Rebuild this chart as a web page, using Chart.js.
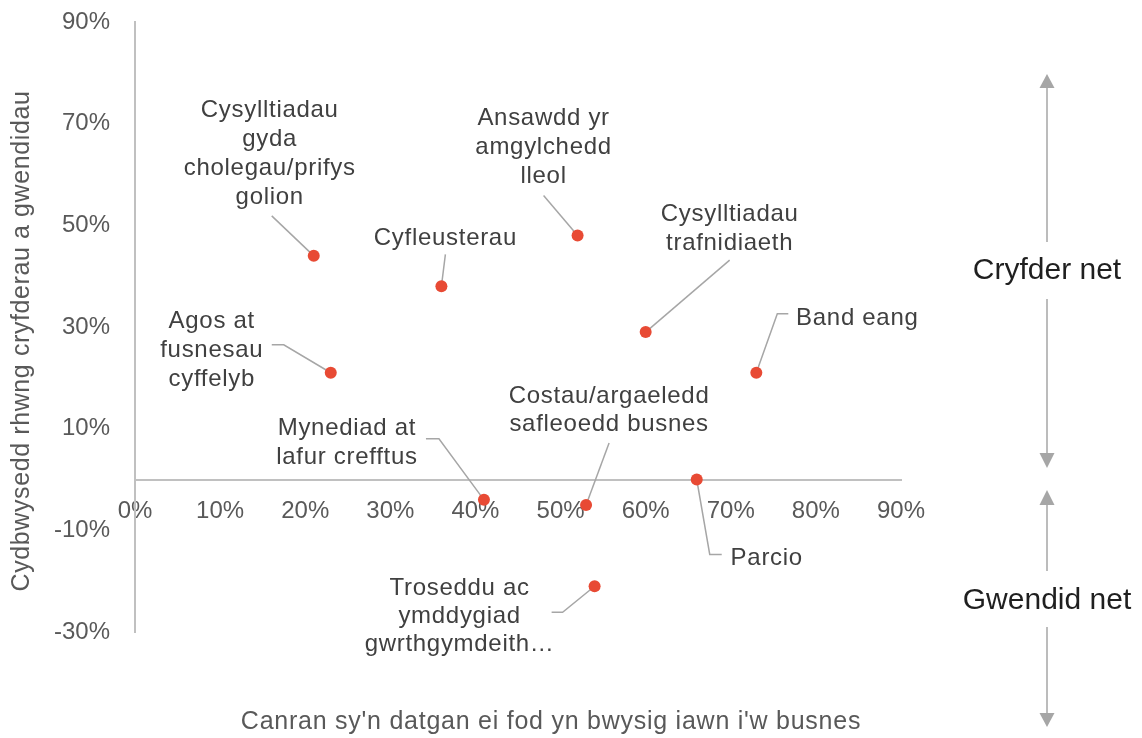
<!DOCTYPE html>
<html>
<head>
<meta charset="utf-8">
<script src="https://cdn.jsdelivr.net/npm/chart.js@4.4.1/dist/chart.umd.min.js"></script>
<style>html,body{margin:0;padding:0;background:#fff;}canvas{display:block;}</style>
</head>
<body>
<canvas id="c" width="1142" height="738"></canvas>
<script>
// ---- data ----
const categories = [
  "Cysylltiadau gyda cholegau/prifysgolion",
  "Agos at fusnesau cyffelyb",
  "Cyfleusterau",
  "Ansawdd yr amgylchedd lleol",
  "Cysylltiadau trafnidiaeth",
  "Band eang",
  "Mynediad at lafur crefftus",
  "Costau/argaeledd safleoedd busnes",
  "Parcio",
  "Troseddu ac ymddygiad gwrthgymdeithasol"
];
const labelLines = [
  ["Cysylltiadau", "gyda", "cholegau/prifys", "golion"],
  ["Agos at", "fusnesau", "cyffelyb"],
  ["Cyfleusterau"],
  ["Ansawdd yr", "amgylchedd", "lleol"],
  ["Cysylltiadau", "trafnidiaeth"],
  ["Band eang"],
  ["Mynediad at", "lafur crefftus"],
  ["Costau/argaeledd", "safleoedd busnes"],
  ["Parcio"],
  ["Troseddu ac", "ymddygiad", "gwrthgymdeith\u2026"]
];
const importance = [21, 23, 36, 52, 60, 73, 41, 53, 66, 54];   // x, %
const netBalance = [44, 21, 38, 48, 29, 21, -4, -5, 0, -21];   // y, %
const xTickValues = [0, 10, 20, 30, 40, 50, 60, 70, 80, 90];
const yTickValues = [-30, -10, 10, 30, 50, 70, 90];
const xAxisTitle = "Canran sy'n datgan ei fod yn bwysig iawn i'w busnes";
const yAxisTitle = "Cydbwysedd rhwng cryfderau a gwendidau";
const sideLabels = ["Cryfder net", "Gwendid net"];

// ---- label placement (pixel offsets from each point) ----
const placement = [
  {dx: -44, dy: -145, lh: 29, leader: [[-42, -40], [0, 0]]},
  {dx: -119, dy: -51, lh: 29, leader: [[-59, -28], [-47, -28], [0, 0]]},
  {dx: 4, dy: -48, lh: 29, leader: [[4, -32], [0, 0]]},
  {dx: -34, dy: -117, lh: 29, leader: [[-34, -40], [0, 0]]},
  {dx: 84, dy: -118, lh: 29, leader: [[84, -72], [0, 0]]},
  {dx: 101, dy: -54, lh: 29, leader: [[32, -59], [21, -59], [0, 0]]},
  {dx: -137, dy: -71, lh: 29, leader: [[-58, -61], [-45, -61], [0, 0]]},
  {dx: 23, dy: -109, lh: 28, leader: [[23, -62], [0, 0]]},
  {dx: 70, dy: 79, lh: 29, leader: [[0, 0], [13, 75], [25, 75]]},
  {dx: -135, dy: 2, lh: 28, leader: [[0, 0], [-32, 26], [-43, 26]]}
];

const FONT = "'Liberation Sans', Arial, sans-serif";
const GREY_TXT = '#595959';
const LABEL_TXT = '#404040';
const LINE_GREY = '#a6a6a6';
const AXIS_GREY = '#c0c0c0';

const annotate = {
  id: 'annotate',
  beforeDatasetsDraw(chart) {
    const ctx = chart.ctx;
    const meta = chart.getDatasetMeta(0);
    ctx.save();
    ctx.strokeStyle = LINE_GREY;
    ctx.lineWidth = 1.5;
    meta.data.forEach((pt, i) => {
      const L = placement[i];
      ctx.beginPath();
      L.leader.forEach(([dx, dy], j) => {
        if (j === 0) ctx.moveTo(pt.x + dx, pt.y + dy); else ctx.lineTo(pt.x + dx, pt.y + dy);
      });
      ctx.stroke();
    });
    ctx.restore();
  },
  afterDatasetsDraw(chart) {
    const ctx = chart.ctx;
    const meta = chart.getDatasetMeta(0);
    ctx.save();
    ctx.font = '24px ' + FONT;
    ctx.letterSpacing = '0.7px';
    ctx.fillStyle = LABEL_TXT;
    ctx.textAlign = 'center';
    ctx.textBaseline = 'middle';
    meta.data.forEach((pt, i) => {
      const L = placement[i];
      labelLines[i].forEach((line, k) => {
        ctx.fillText(line, pt.x + L.dx, pt.y + L.dy + k * L.lh);
      });
    });
    ctx.restore();
  },
  afterDraw(chart) {
    const ctx = chart.ctx;
    ctx.save();
    // axis titles
    ctx.fillStyle = GREY_TXT;
    ctx.textAlign = 'center';
    ctx.textBaseline = 'middle';
    ctx.font = '25px ' + FONT;
    ctx.letterSpacing = '0.75px';
    ctx.fillText(xAxisTitle, 551, 722);
    ctx.letterSpacing = '0.6px';
    ctx.save();
    ctx.translate(22, 341);
    ctx.rotate(-Math.PI / 2);
    ctx.fillText(yAxisTitle, 0, 0);
    ctx.restore();

    // side arrows
    const ax = 1047;
    ctx.strokeStyle = LINE_GREY;
    ctx.fillStyle = LINE_GREY;
    ctx.lineWidth = 1.5;
    const seg = (y1, y2) => { ctx.beginPath(); ctx.moveTo(ax, y1); ctx.lineTo(ax, y2); ctx.stroke(); };
    const head = (tip, base) => {
      ctx.beginPath(); ctx.moveTo(ax, tip); ctx.lineTo(ax - 7.5, base); ctx.lineTo(ax + 7.5, base); ctx.closePath(); ctx.fill();
    };
    head(74, 88); seg(88, 242); seg(299, 453); head(468, 453);
    head(490, 505); seg(505, 571); seg(627, 713); head(727, 713);

    ctx.fillStyle = '#1f1f1f';
    ctx.font = '30px ' + FONT;
    ctx.letterSpacing = '0px';
    ctx.fillText(sideLabels[0], ax, 271);
    ctx.fillText(sideLabels[1], ax, 601);
    ctx.restore();
  }
};

new Chart(document.getElementById('c'), {
  type: 'scatter',
  data: {
    datasets: [{
      label: 'Ffactorau',
      data: importance.map((x, i) => ({x: x, y: netBalance[i]})),
      backgroundColor: '#e84a34',
      borderColor: '#e84a34',
      borderWidth: 0,
      pointRadius: 6,
      pointHoverRadius: 6
    }]
  },
  options: {
    responsive: false,
    animation: false,
    layout: {padding: {left: 0, top: 22, right: 241, bottom: 106}},
    plugins: {legend: {display: false}, tooltip: {enabled: false}},
    scales: {
      x: {
        type: 'linear',
        position: {y: 0},
        min: 0, max: 90,
        afterBuildTicks: s => { s.ticks = xTickValues.map(v => ({value: v})); },
        grid: {display: false, drawTicks: false},
        border: {display: true, color: AXIS_GREY, width: 2},
        ticks: {
          padding: 17,
          color: GREY_TXT,
          font: {family: FONT, size: 24},
          maxRotation: 0,
          autoSkip: false,
          callback: v => v + '%'
        }
      },
      y: {
        type: 'linear',
        position: 'left',
        min: -30, max: 90,
        afterBuildTicks: s => { s.ticks = yTickValues.map(v => ({value: v})); },
        afterFit: s => { s.width = 135; s.paddingTop = 0; s.paddingBottom = 0; },
        grid: {display: false, drawTicks: false},
        border: {display: true, color: AXIS_GREY, width: 2},
        ticks: {
          padding: 25,
          color: GREY_TXT,
          font: {family: FONT, size: 24},
          callback: v => v + '%'
        }
      }
    }
  },
  plugins: [annotate]
});
</script>
</body>
</html>
